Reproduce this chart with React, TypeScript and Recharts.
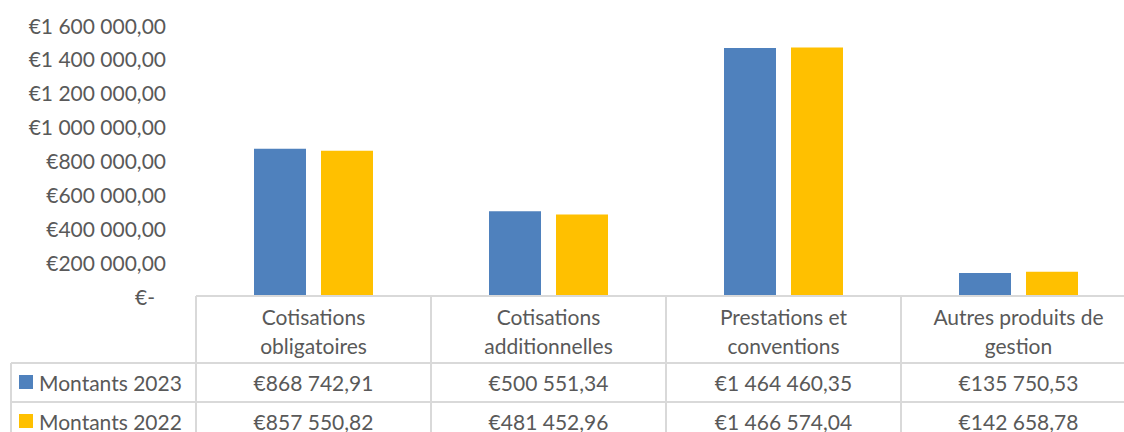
import React from 'react';
import { BarChart, Bar, XAxis, YAxis } from 'recharts';

const categories = ['Cotisations obligatoires', 'Cotisations additionnelles', 'Prestations et conventions', 'Autres produits de gestion'];
const categoryLines = [
  ['Cotisations', 'obligatoires'],
  ['Cotisations', 'additionnelles'],
  ['Prestations et', 'conventions'],
  ['Autres produits de', 'gestion'],
];
const montants2023 = [868742.91, 500551.34, 1464460.35, 135750.53];
const montants2022 = [857550.82, 481452.96, 1466574.04, 142658.78];
const seriesNames = ['Montants 2023', 'Montants 2022'];
const seriesColors = ['#4F81BD', '#FFC000'];
const yTicks = [0, 200000, 400000, 600000, 800000, 1000000, 1200000, 1400000, 1600000];

const data = categories.map((name, i) => ({ name, m2023: montants2023[i], m2022: montants2022[i] }));

const CHART_W = 1136;
const CHART_H = 440;
const Y_W = 196;
const BAND = (CHART_W - Y_W) / categories.length;
const TEXT = '#595959';
const LINE = '#D9D9D9';
const FONT = 'Lato, Carlito, Calibri, sans-serif';
const FS = 21;
const HEAD_H = 67;
const ROW_H = 39;
const LEGEND_X = 11;
const X_H = 144;

function fmt(v: number): string {
  if (v === 0) return '€-';
  const [i, d] = v.toFixed(2).split('.');
  return '€' + i.replace(/\B(?=(\d{3})+(?!\d))/g, ' ') + ',' + d;
}

const YTick = (props: any) => {
  const { y, payload } = props;
  const zero = payload.value === 0;
  return (
    <text x={166 - (zero ? 11 : 0)} y={y} textAnchor="end" dominantBaseline="central" fill={TEXT} fontSize={FS} fontFamily={FONT}>
      {fmt(payload.value)}
    </text>
  );
};

const XTick = (props: any) => {
  const { x, y, payload } = props;
  const i = payload.index;
  const left = x - BAND / 2;
  const right = x + BAND / 2;
  const total = X_H;
  const lines = categoryLines[i];
  const rows = [montants2023[i], montants2022[i]];
  return (
    <g>
      <line x1={left} y1={y} x2={right} y2={y} stroke={LINE} strokeWidth={2} />
      <line x1={left} y1={y + HEAD_H} x2={right} y2={y + HEAD_H} stroke={LINE} strokeWidth={2} />
      <line x1={left} y1={y + HEAD_H + ROW_H} x2={right} y2={y + HEAD_H + ROW_H} stroke={LINE} strokeWidth={2} />
      <line x1={left} y1={y} x2={left} y2={y + total} stroke={LINE} strokeWidth={2} />
      <line x1={right} y1={y} x2={right} y2={y + total} stroke={LINE} strokeWidth={2} />
      {lines.map((t, k) => (
        <text key={k} x={x} y={y + 20 + k * 29} textAnchor="middle" dominantBaseline="central" fill={TEXT} fontSize={FS} fontFamily={FONT}>
          {t}
        </text>
      ))}
      {rows.map((v, k) => (
        <text key={'v' + k} x={x} y={y + HEAD_H + ROW_H / 2 + k * ROW_H - 0.5} textAnchor="middle" dominantBaseline="central" fill={TEXT} fontSize={FS} fontFamily={FONT}>
          {fmt(v)}
        </text>
      ))}
      {i === 0 && (
        <g>
          <line x1={LEGEND_X} y1={y + HEAD_H} x2={left} y2={y + HEAD_H} stroke={LINE} strokeWidth={2} />
          <line x1={LEGEND_X} y1={y + HEAD_H + ROW_H} x2={left} y2={y + HEAD_H + ROW_H} stroke={LINE} strokeWidth={2} />
          <line x1={LEGEND_X} y1={y + HEAD_H} x2={LEGEND_X} y2={y + total} stroke={LINE} strokeWidth={2} />
          {seriesNames.map((n, k) => (
            <g key={n}>
              <rect x={19} y={y + HEAD_H + ROW_H / 2 + k * ROW_H - 7.5} width={14} height={14} fill={seriesColors[k]} />
              <text x={39} y={y + HEAD_H + ROW_H / 2 + k * ROW_H - 0.5} dominantBaseline="central" fill={TEXT} fontSize={FS} fontFamily={FONT}>
                {n}
              </text>
            </g>
          ))}
        </g>
      )}
    </g>
  );
};

export default function App() {
  return (
    <div style={{ position: 'absolute', left: 0, top: 0, width: 1124, height: 432, overflow: 'hidden', background: '#fff' }}>
      <BarChart width={CHART_W} height={CHART_H} data={data} margin={{ top: 25, right: 0, left: 0, bottom: 0 }} barSize={52} barGap={15}>
        <YAxis width={Y_W} domain={[0, 1600000]} ticks={yTicks} axisLine={false} tickLine={false} tick={<YTick />} interval={0} />
        <XAxis dataKey="name" height={X_H} axisLine={false} tickLine={false} tickSize={0} tickMargin={0} interval={0} tick={<XTick />} />
        <Bar dataKey="m2023" name={seriesNames[0]} fill={seriesColors[0]} isAnimationActive={false} />
        <Bar dataKey="m2022" name={seriesNames[1]} fill={seriesColors[1]} isAnimationActive={false} />
      </BarChart>
    </div>
  );
}
